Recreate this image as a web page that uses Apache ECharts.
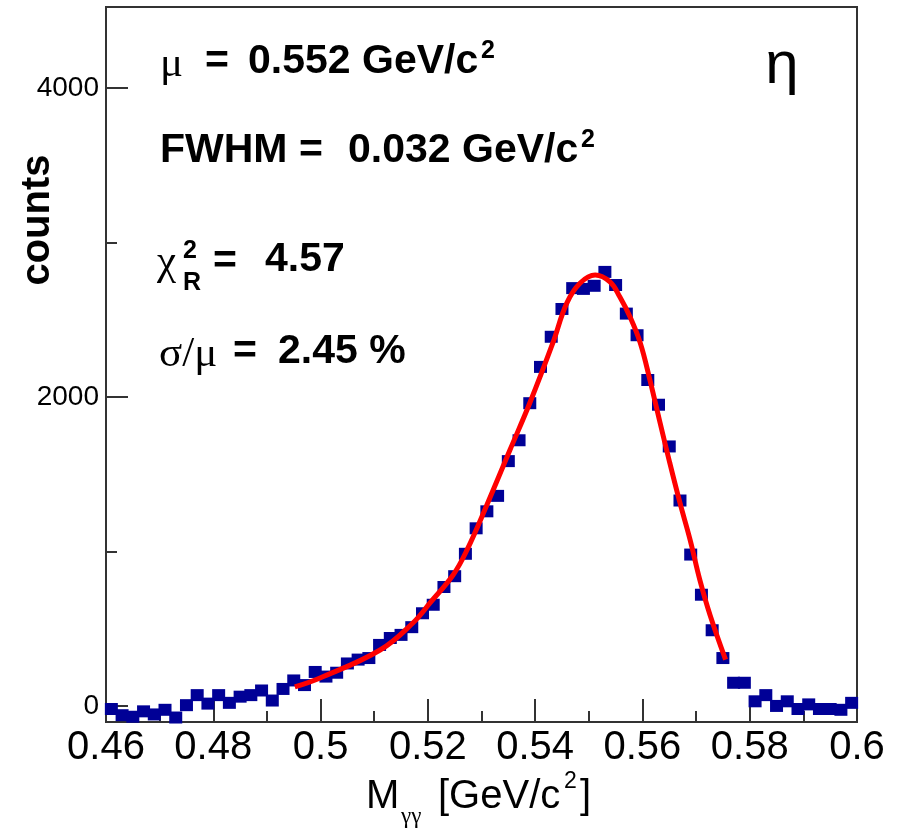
<!DOCTYPE html>
<html><head><meta charset="utf-8">
<script src="https://cdn.jsdelivr.net/npm/echarts@6/dist/echarts.min.js"></script>
<style>html,body{margin:0;padding:0;background:#fff}#c{width:902px;height:830px}</style>
</head><body><div id="c"></div>
<script>
// Bin centres of M_gg histogram (GeV/c^2)
const binCenters = [0.461,0.463,0.465,0.467,0.469,0.471,0.473,0.475,0.477,0.479,
  0.481,0.483,0.485,0.487,0.489,0.491,0.493,0.495,0.497,0.499,
  0.501,0.503,0.505,0.507,0.509,0.511,0.513,0.515,0.517,0.519,
  0.521,0.523,0.525,0.527,0.529,0.531,0.533,0.535,0.537,0.539,
  0.541,0.543,0.545,0.547,0.549,0.551,0.553,0.555,0.557,0.559,
  0.561,0.563,0.565,0.567,0.569,0.571,0.573,0.575,0.577,0.579,
  0.581,0.583,0.585,0.587,0.589,0.591,0.593,0.595,0.597,0.599];
// Counts per bin
const counts = [-20,-60,-70,-35,-55,-25,-75,5,70,15,
  70,20,60,70,100,35,110,165,135,220,
  190,215,275,300,310,395,440,460,510,600,
  655,770,840,985,1150,1260,1360,1585,1720,1960,
  2195,2390,2570,2705,2700,2720,2810,2725,2540,2400,
  2110,1950,1680,1330,980,720,490,310,150,150,
  30,70,0,30,-20,10,-20,-20,-25,20];
// Fit curve points
const fitX = [0.4952,0.4999,0.5111,0.5172,0.5204,0.5247,0.5273,0.5310,0.5353,0.5390,0.5433,0.5459,0.5484,0.5512,0.5540,0.5558,0.5577,0.5596,0.5614,0.5633,0.5651,0.5670,0.5689,0.5707,0.5726,0.5755];
const fitY = [123,181,362,537,667,848,1010,1301,1657,1961,2350,2608,2738,2790,2744,2647,2518,2350,2110,1832,1573,1314,1074,816,589,300];
// Axis ticks
const yMajorTicks = [0, 2000, 4000];
const yMinorTicks = [1000, 3000];
const yMin = -104, yMax = 4525;
const xMin = 0.46, xMax = 0.6, xStep = 0.02;

const chart = echarts.init(document.getElementById('c'), null, {renderer:'canvas'});
const SANS = "'Liberation Sans', Arial, Helvetica, sans-serif";
const SERIF = "'Liberation Serif', 'Times New Roman', serif";
const axisCol = '#333';
function T(text, x, y, font, opts) {
  return Object.assign({type:'text', x:x, y:y, silent:true, z:100,
    style:Object.assign({text:text, font:font, fill:'#000', align:'left', verticalAlign:'middle', textAlign:'left', textVerticalAlign:'middle'}, opts||{})});
}
const B41 = "bold 41px " + SANS;
const B25 = "bold 25px " + SANS;
const S43 = "43px " + SERIF;
const graphics = [
  T('\u03bc', 160, 65, S43),
  T('=', 205, 62, B41),
  T('0.552 GeV/c', 248, 62, B41),
  T('2', 481, 51, B25),
  T('FWHM =', 160, 151, B41),
  T('0.032 GeV/c', 348, 151, B41),
  T('2', 581, 140, B25),
  T('\u03c7', 157, 263, S43),
  T('2', 183, 251, B25),
  T('R', 183, 283, B25),
  T('=', 213, 262, B41),
  T('4.57', 265, 260, B41),
  T('\u03c3/\u03bc', 159, 355, S43),
  T('=', 233, 352, B41),
  T('2.45 %', 278, 352, B41),
  T('\u03b7', 782, 66, "60px " + SANS, {align:'center', textAlign:'center'}),
  Object.assign(T('counts', 38, 220, "bold 40px " + SANS, {align:'center', textAlign:'center'}), {rotation: Math.PI/2}),
  T('M', 366, 797, "40px " + SANS),
  T('\u03b3\u03b3', 401, 817, "23px " + SERIF),
  T('[GeV/c', 438, 797, "40px " + SANS),
  T('2', 564, 782, "23px " + SANS),
  T(']', 580, 797, "40px " + SANS)
];

const option = {
  animation:false,
  backgroundColor:'#fff',
  grid:{left:106, right:45, top:7, bottom:108, show:true, borderColor:axisCol, borderWidth:2, backgroundColor:'transparent', containLabel:false},
  xAxis:{type:'value', min:xMin, max:xMax, interval:xStep,
    axisLine:{show:true, onZero:false, lineStyle:{color:axisCol, width:2}},
    axisTick:{show:true, inside:true, length:23, lineStyle:{color:axisCol, width:2}},
    minorTick:{show:true, splitNumber:2, length:11, lineStyle:{color:axisCol, width:2}},
    splitLine:{show:false}, minorSplitLine:{show:false},
    axisLabel:{fontSize:40, color:'#000', margin:6, fontFamily:SANS, showMinLabel:true, showMaxLabel:true,
      formatter:function(v){return String(+(+v).toFixed(2));}}
  },
  yAxis:[
    {type:'value', min:yMin, max:yMax, position:'left',
      axisLine:{show:true, onZero:false, lineStyle:{color:axisCol, width:2}},
      axisTick:{show:true, inside:true, length:22, customValues:yMajorTicks, lineStyle:{color:axisCol, width:2}},
      axisLabel:{customValues:yMajorTicks, fontSize:28, color:'#000', margin:7, fontFamily:SANS,
        formatter:function(v){return String(Math.round(v));}},
      splitLine:{show:false}},
    {type:'value', min:yMin, max:yMax, position:'left',
      axisLine:{show:false, onZero:false},
      axisTick:{show:true, inside:true, length:11, customValues:yMinorTicks, lineStyle:{color:axisCol, width:2}},
      axisLabel:{show:false}, splitLine:{show:false}}
  ],
  series:[
    {type:'scatter', data:binCenters.map(function(x,i){return [x, counts[i]];}), symbol:'rect', symbolSize:[13,12],
      itemStyle:{color:'#000096', opacity:1}, z:2, silent:true},
    {type:'line', data:fitX.map(function(x,i){return [x, fitY[i]];}), smooth:0.4, showSymbol:false, symbol:'none',
      lineStyle:{color:'#ff0000', width:5}, z:3, silent:true}
  ],
  graphic:graphics
};
chart.setOption(option);
</script>
</body></html>
